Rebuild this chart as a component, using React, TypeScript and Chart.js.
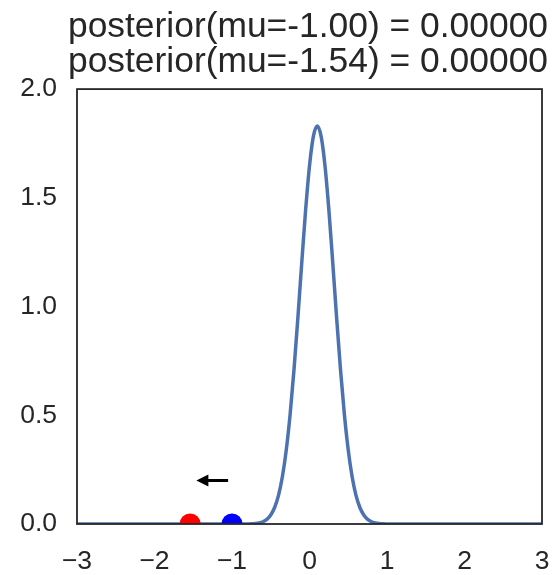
import { useEffect, useRef } from "react";
import { Chart, registerables } from "chart.js";

Chart.register(...registerables);

// Posterior curve
const curveX = [
  -3, -1.5, -0.9, -0.85, -0.8, -0.75, -0.7, -0.65, -0.6, -0.55, -0.5, -0.45, -0.4, -0.35, -0.3, -0.25,
  -0.2, -0.15, -0.1, -0.05, 0, 0.05, 0.1, 0.15, 0.2, 0.25, 0.3, 0.35, 0.4, 0.45, 0.5, 0.55, 0.6, 0.65,
  0.7, 0.75, 0.8, 0.85, 0.9, 0.95, 1.0, 1.05, 1.1, 1.5, 3,
];
const curveY = [
  0, 0, 0, 0.0001, 0.0004, 0.0009, 0.0022, 0.0049, 0.0105, 0.0214, 0.0414, 0.0758, 0.1317, 0.217, 0.3396,
  0.5042, 0.7097, 0.9478, 1.2012, 1.4441, 1.6472, 1.7825, 1.83, 1.7825, 1.6472, 1.4441, 1.2012, 0.9478,
  0.7097, 0.5042, 0.3396, 0.217, 0.1317, 0.0758, 0.0414, 0.0214, 0.0105, 0.0049, 0.0022, 0.0009, 0.0004,
  0.0001, 0, 0, 0,
];

// Current (blue) and proposed (red) mu
const currentMuX = [-1.0];
const currentMuY = [0];
const proposedMuX = [-1.54];
const proposedMuY = [0];

// Arrow (data coords)
const arrowFromX = [-1.05];
const arrowToX = [-1.46];
const arrowY = [0.2];

const titleLines = ["posterior(mu=-1.00) = 0.00000", "posterior(mu=-1.54) = 0.00000"];
const xRange = [-3, 3];
const yRange = [0, 2];

const FONT = "'Liberation Sans', Arial, Helvetica, sans-serif";
const TEXT = "#262626";

const framePlugin = {
  id: "frame",
  beforeDatasetsDraw(chart: any) {
    const { ctx, chartArea } = chart;
    ctx.save();
    ctx.beginPath();
    ctx.rect(chartArea.left, chartArea.top, chartArea.right - chartArea.left, chartArea.bottom - chartArea.top);
    ctx.clip();
  },
  afterDatasetsDraw(chart: any) {
    const { ctx, chartArea, scales } = chart;
    ctx.restore();
    ctx.save();
    // arrow
    const y = scales.y.getPixelForValue(arrowY[0]);
    const x0 = scales.x.getPixelForValue(arrowFromX[0]);
    const x1 = scales.x.getPixelForValue(arrowToX[0]);
    const headLen = 12;
    const headHalf = 6;
    ctx.strokeStyle = "#000";
    ctx.fillStyle = "#000";
    ctx.lineWidth = 3;
    ctx.beginPath();
    ctx.moveTo(x0, y);
    ctx.lineTo(x1 + headLen - 2, y);
    ctx.stroke();
    ctx.beginPath();
    ctx.moveTo(x1, y);
    ctx.lineTo(x1 + headLen, y - headHalf);
    ctx.lineTo(x1 + headLen, y + headHalf);
    ctx.closePath();
    ctx.fill();
    // spines
    ctx.strokeStyle = TEXT;
    ctx.lineWidth = 1.8;
    ctx.strokeRect(chartArea.left, chartArea.top, chartArea.right - chartArea.left, chartArea.bottom - chartArea.top);
    ctx.restore();
  },
};

export default function App() {
  const ref = useRef<HTMLCanvasElement>(null);
  useEffect(() => {
    document.body.style.margin = "0";
    const chart = new Chart(ref.current as HTMLCanvasElement, {
      type: "scatter",
      data: {
        datasets: [
          {
            data: currentMuX.map((x, i) => ({ x, y: currentMuY[i] })),
            backgroundColor: "#0000ff",
            borderWidth: 0,
            pointRadius: 10.5,
            clip: 0,
            order: 1,
          } as any,
          {
            data: proposedMuX.map((x, i) => ({ x, y: proposedMuY[i] })),
            backgroundColor: "#ff0000",
            borderWidth: 0,
            pointRadius: 10.5,
            clip: 0,
            order: 1,
          } as any,
          {
            data: curveX.map((x, i) => ({ x, y: curveY[i] })),
            showLine: true,
            borderColor: "#4c72b0",
            borderWidth: 3.5,
            pointRadius: 0,
            cubicInterpolationMode: "monotone",
            clip: 0,
            order: 2,
          } as any,
        ],
      },
      options: {
        animation: false,
        responsive: false,
        devicePixelRatio: 1,
        layout: { padding: { left: 0, right: 6, top: 0, bottom: 0 } },
        plugins: {
          legend: { display: false },
          tooltip: { enabled: false },
          title: {
            display: true,
            text: titleLines,
            color: TEXT,
            fullSize: true,
            align: "end",
            font: { family: FONT, size: 35.4, weight: "normal", lineHeight: 0.99 },
            padding: { top: 9.5, bottom: 9.5 },
          },
        },
        scales: {
          x: {
            type: "linear",
            min: xRange[0],
            max: xRange[1],
            grid: { display: false, drawTicks: true, tickLength: 22 },
            border: { display: false },
            ticks: {
              stepSize: 1,
              color: TEXT,
              padding: 0,
              font: { family: FONT, size: 26.5 },
              maxRotation: 0,
              callback: (v: any) => String(v).replace("-", "\u2212"),
            },
            afterFit: (s: any) => {
              s.height = 51;
            },
          },
          y: {
            type: "linear",
            min: yRange[0],
            max: yRange[1],
            grid: { display: false, drawTicks: true, tickLength: 20 },
            border: { display: false },
            ticks: {
              stepSize: 0.5,
              color: TEXT,
              padding: 0,
              font: { family: FONT, size: 26.5 },
              callback: (v: any) => Number(v).toFixed(1),
            },
            afterFit: (s: any) => {
              s.width = 77;
            },
          },
          yRightSpacer: {
            type: "linear",
            position: "right",
            min: yRange[0],
            max: yRange[1],
            grid: { display: false, drawTicks: false },
            border: { display: false },
            ticks: { display: false },
            afterFit: (s: any) => {
              s.width = 6;
            },
          },
        },
      },
      plugins: [framePlugin],
    });
    return () => chart.destroy();
  }, []);
  return (
    <div style={{ width: 554, height: 575 }}>
      <canvas ref={ref} width={554} height={575} style={{ display: "block" }} />
    </div>
  );
}
